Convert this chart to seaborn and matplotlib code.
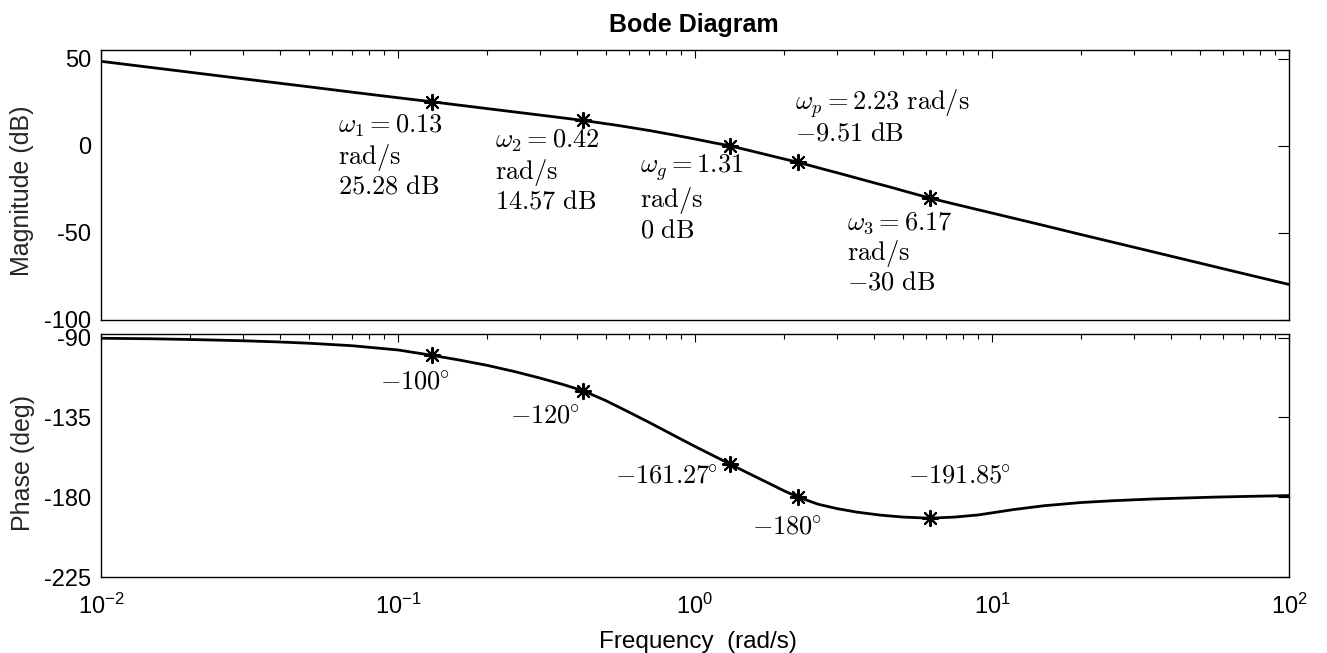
import matplotlib
matplotlib.use("Agg")
import matplotlib.pyplot as plt
import seaborn as sns
import pandas as pd
from matplotlib.ticker import LogLocator, NullFormatter, FixedLocator

# ---------------- data ----------------
mag_freq = [0.01, 0.02, 0.03, 0.05, 0.07, 0.1, 0.13, 0.17, 0.22, 0.3, 0.42,
            0.55, 0.7, 0.85, 1.0, 1.15, 1.31, 1.5, 1.75, 2.0, 2.23, 2.6, 3.0,
            3.5, 4.0, 4.5, 5.2, 6.17, 7.5, 10.0, 15.0, 20.0, 30.0, 50.0, 70.0,
            100.0]
mag_db = [48.5, 42.2, 38.5, 33.9, 30.8, 27.6, 25.28, 22.83, 20.48, 17.67, 14.57,
          11.7, 8.8, 6.2, 3.9, 1.8, 0.0, -2.4, -5.2, -7.6, -9.51, -12.6, -15.4,
          -18.5, -21.2, -23.5, -26.5, -30.0, -33.5, -38.6, -45.8, -51.0, -58.2,
          -67.3, -73.3, -79.6]

phase_freq = [0.01, 0.015, 0.02, 0.03, 0.04, 0.05, 0.07, 0.1, 0.13, 0.16, 0.2,
              0.25, 0.3, 0.36, 0.42, 0.5, 0.6, 0.7, 0.8, 0.9, 1.0, 1.15, 1.31,
              1.5, 1.75, 2.0, 2.23, 2.6, 3.0, 3.5, 4.2, 5.0, 6.17, 7.5, 9.0,
              11.8, 15.0, 20.0, 25.5, 35.0, 55.0, 75.0, 100.0]
phase_deg = [-90.4, -90.7, -91.1, -91.8, -92.5, -93.2, -94.6, -97.0, -100.0,
             -102.6, -105.7, -109.4, -112.8, -116.5, -120.0, -125.5, -132.1,
             -137.8, -142.9, -147.4, -151.4, -156.5, -161.27, -166.2, -171.7,
             -176.5, -180.0, -184.0, -186.4, -188.4, -190.1, -191.2, -191.85,
             -191.2, -190.0, -187.0, -184.8, -183.0, -182.0, -181.0, -180.0,
             -179.5, -179.1]

mark_freq = [0.13, 0.42, 1.31, 2.23, 6.17]
mark_mag = [25.28, 14.57, 0.0, -9.51, -30.0]
mark_phase = [-100.0, -120.0, -161.27, -180.0, -191.85]

mag_ticks = [-100, -50, 0, 50]
phase_ticks = [-225, -180, -135, -90]
x_ticks = [0.01, 0.1, 1, 10, 100]

mag_notes = [
    r"$\omega_1 = 0.13$" "\n" r"$\mathrm{rad/s}$" "\n" r"$25.28\ \mathrm{dB}$",
    r"$\omega_2 = 0.42$" "\n" r"$\mathrm{rad/s}$" "\n" r"$14.57\ \mathrm{dB}$",
    r"$\omega_g = 1.31$" "\n" r"$\mathrm{rad/s}$" "\n" r"$0\ \mathrm{dB}$",
    r"$\omega_p = 2.23\ \mathrm{rad/s}$" "\n" r"$-9.51\ \mathrm{dB}$",
    r"$\omega_3 = 6.17$" "\n" r"$\mathrm{rad/s}$" "\n" r"$-30\ \mathrm{dB}$",
]
phase_notes = [r"$-100^{\!\!\circ}$", r"$-120^{\!\!\circ}$",
               r"$-161.27^{\!\!\circ}$", r"$-180^{\!\!\circ}$",
               r"$-191.85^{\!\!\circ}$"]

# ---------------- layout (pixels, top-left origin) ----------------
W, H = 1327, 653
mag_note_px = [(338, 113), (495, 128), (640, 152), (795, 87), (847, 210)]
phase_note_px = [(380, 383), (510, 417), (615, 477), (752, 528), (908, 477)]


def fx(px):
    return px / W


def fy(py):
    return 1 - py / H


sns.set_theme(style="white")
plt.rcParams.update({
    "font.family": ["Liberation Sans", "DejaVu Sans"],
    "mathtext.fontset": "cm",
    "axes.unicode_minus": False,
    "axes.edgecolor": "black",
    "axes.linewidth": 1.0,
    "xtick.color": "black",
    "ytick.color": "black",
})

fig = plt.figure(figsize=(W / 100, H / 100), dpi=100)
fig.patch.set_facecolor("white")
L, R = 101, 1289
ax1 = fig.add_axes([fx(L), fy(320), (R - L) / W, (320 - 50) / H])
ax2 = fig.add_axes([fx(L), fy(577), (R - L) / W, (577 - 334) / H], sharex=ax1)

mag_df = pd.DataFrame({"freq": mag_freq, "mag": mag_db})
ph_df = pd.DataFrame({"freq": phase_freq, "phase": phase_deg})

sns.lineplot(data=mag_df, x="freq", y="mag", ax=ax1, color="black",
             linewidth=2.0, estimator=None, sort=True)
sns.lineplot(data=ph_df, x="freq", y="phase", ax=ax2, color="black",
             linewidth=2.0, estimator=None, sort=True)
sns.scatterplot(x=mark_freq, y=mark_mag, ax=ax1, marker=(8, 2, 0), s=120,
                color="black", linewidth=1.5, zorder=4)
sns.scatterplot(x=mark_freq, y=mark_phase, ax=ax2, marker=(8, 2, 0), s=120,
                color="black", linewidth=1.5, zorder=4)

for ax in (ax1, ax2):
    ax.set_xscale("log")
    ax.set_xlim(0.01, 100)
    ax.xaxis.set_major_locator(FixedLocator(x_ticks))
    ax.xaxis.set_minor_locator(LogLocator(base=10, subs=range(2, 10), numticks=50))
    ax.xaxis.set_minor_formatter(NullFormatter())
    ax.tick_params(which="both", direction="in", top=True, right=True,
                   colors="black", width=0.8)
    ax.tick_params(axis="x", which="major", length=6, labelsize=17, pad=12)
    ax.tick_params(axis="x", which="minor", length=3.5)
    ax.tick_params(axis="y", which="major", length=8, labelsize=17, pad=7)
    ax.set_xlabel("")
    for s in ax.spines.values():
        s.set_visible(True)
        s.set_color("black")
        s.set_linewidth(1.0)

ax1.set_ylim(-100, 55)
ax1.set_yticks(mag_ticks)
ax1.tick_params(axis="x", labelbottom=False)
ax2.set_ylim(-225, -88)
ax2.set_yticks(phase_ticks)

ax1.set_ylabel("Magnitude (dB)", fontsize=18)
ax2.set_ylabel("Phase (deg)", fontsize=18)
ax1.yaxis.set_label_coords((34 - L) / (R - L), 0.48)
ax2.yaxis.set_label_coords((35 - L) / (R - L), 0.47)

for txt, (px, py) in zip(mag_notes, mag_note_px):
    fig.text(fx(px), fy(py), txt, fontsize=19, ha="left", va="top",
             linespacing=1.1, color="black")
for txt, (px, py) in zip(phase_notes, phase_note_px):
    fig.text(fx(px), fy(py), txt, fontsize=19, ha="left", va="center",
             color="black")

fig.text(fx(694), fy(25), "Bode Diagram", fontsize=18, fontweight="bold",
         ha="center", va="center", color="black")
fig.text(fx(698), fy(642), "Frequency  (rad/s)", fontsize=17.5,
         ha="center", va="center", color="black")

fig.savefig("out.png", dpi=100, facecolor="white")
